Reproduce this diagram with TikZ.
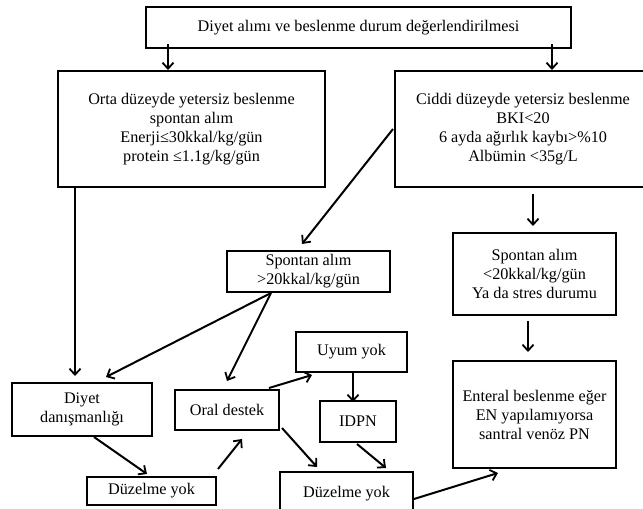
\documentclass[tikz,border=0pt]{standalone}
\usepackage{fontspec}
\setmainfont{Liberation Serif}
\usetikzlibrary{arrows.meta,calc}
\begin{document}
\begin{tikzpicture}[x=1pt,y=-1pt,
  box/.style={draw,line width=2pt,align=center,inner sep=0pt,
    font=\fontsize{16.2}{19}\selectfont},
  arr/.style={line width=2pt,-{Straight Barb[length=6pt,width=11pt,line width=1.8pt]}}]
\useasboundingbox (0,0) rectangle (643,509);
\node[box,minimum width=425,minimum height=41] (top) at (358.5,27.5) {Diyet alımı ve beslenme durum değerlendirilmesi};
\node[box,minimum width=267,minimum height=116] (orta) at (191.5,129) {Orta düzeyde yetersiz beslenme\\spontan alım\\Enerji≤30kkal/kg/gün\\protein ≤1.1g/kg/gün};
\node[box,minimum width=256,minimum height=116] (ciddi) at (523,129) {Ciddi düzeyde yetersiz beslenme\\BKI<20\\6 ayda ağırlık kaybı>\%10\\Albümin <35g/L};
\node[box,minimum width=163,minimum height=41] (sp1) at (308.5,271.5) {Spontan alım\\>20kkal/kg/gün};
\node[box,minimum width=163,minimum height=82] (sp2) at (534.5,274) {Spontan alım\\<20kkal/kg/gün\\Ya da stres durumu};
\node[box,minimum width=140,minimum height=53] (diyet) at (82,409.5) {Diyet\\danışmanlığı};
\node[box,minimum width=104,minimum height=40] (oral) at (227,410) {Oral destek};
\node[box,minimum width=111,minimum height=40] (uyum) at (351.5,352) {Uyum yok};
\node[box,minimum width=76,minimum height=41] (idpn) at (358,421.5) {IDPN};
\node[box,minimum width=129,minimum height=28] (dz1) at (151.5,491) {Düzelme yok};
\node[box,minimum width=133,minimum height=43] (dz2) at (346.5,493.5) {Düzelme yok};
\node[box,minimum width=163,minimum height=107] (enteral) at (534.5,414.5) {Enteral beslenme eğer\\EN yapılamıyorsa\\santral venöz PN};
\draw[arr] ($(top.south west)+(23,-5)$) -- ($(orta.north west)+(111,0)$);
\draw[arr] ($(top.south west)+(407,-5)$) -- ($(ciddi.north west)+(158,0)$);
\draw[arr] ($(orta.south west)+(18,0)$) -- ($(diyet.north west)+(64,-6)$);
\draw[arr] ($(ciddi.north west)+(-1,59)$) -- ($(sp1.north west)+(76,-6)$);
\draw[arr] ($(ciddi.south west)+(139,6)$) -- ($(sp2.north west)+(81,-6)$);
\draw[arr] ($(sp1.south west)+(45,0)$) -- ($(diyet.north west)+(95,-5)$);
\draw[arr] ($(sp1.south west)+(45,0)$) -- ($(oral.north west)+(53,-8)$);
\draw[arr] ($(sp2.south west)+(76,5)$) -- ($(enteral.north west)+(76,-8)$);
\draw[arr] ($(diyet.south west)+(83,0)$) -- ($(dz1.north west)+(61,-2)$);
\draw[arr] ($(dz1.north east)+(1,-7)$) -- ($(oral.south west)+(68,8)$);
\draw[arr] ($(oral.north west)+(95,-1)$) -- ($(uyum.south west)+(17,2)$);
\draw[arr] ($(uyum.south west)+(58,0)$) -- ($(idpn.north west)+(34,2)$);
\draw[arr] ($(oral.south east)+(2,-3)$) -- ($(dz2.north west)+(38,-4)$);
\draw[arr] ($(idpn.south west)+(38,1)$) -- ($(dz2.north west)+(107,-3)$);
\draw[arr] ($(dz2.north east)+(0,28)$) -- ($(enteral.south west)+(46,4)$);
\end{tikzpicture}
\end{document}
